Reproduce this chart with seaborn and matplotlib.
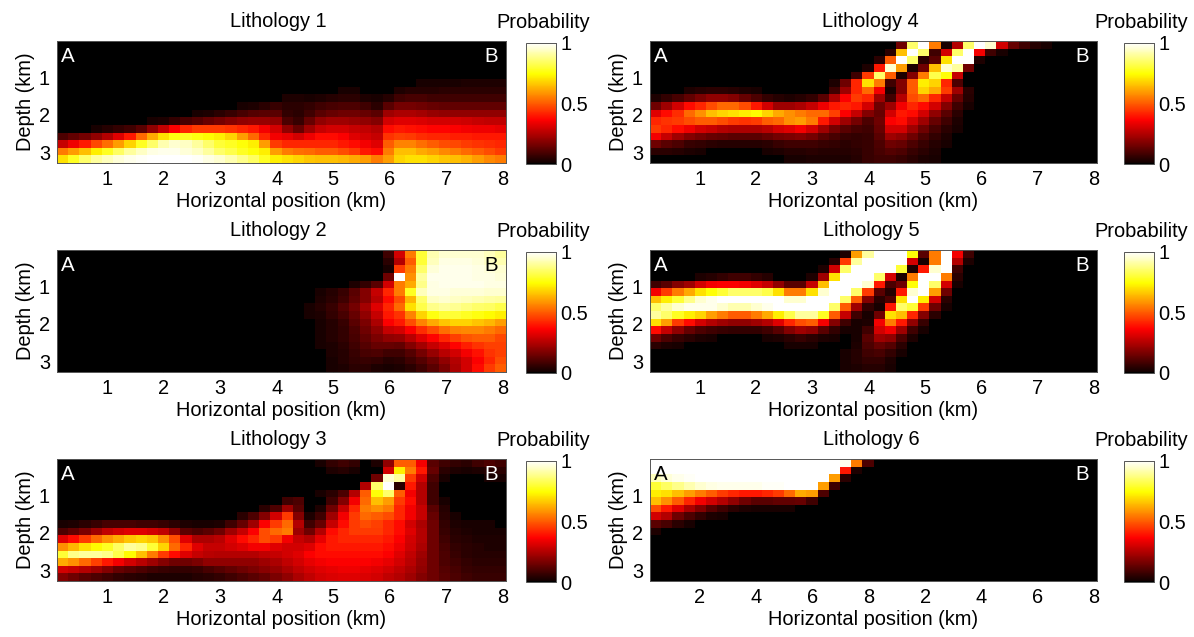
import numpy as np
import matplotlib
matplotlib.use("Agg")
import matplotlib.pyplot as plt
from matplotlib.colors import ListedColormap
import seaborn as sns

W, H = 1194, 637
X_MIN, X_MAX = 0.12, 8.05
D_MIN, D_MAX = 0.04, 3.29
NCOL = 40

lith1 = [
 [0]*40, [0]*40, [0]*40, [0]*40,
 [0]*34+[1,1,1,1,1,1],
 [0]*30+[1,1,2,2,2,2,3,3,3,3],
 [0]*20+[1,1,0,1,1,2,2,1,1,1,3,4,4,4,5,5,5,5,5,5],
 [0]*19+[1,3,3,2,3,4,5,5,3,2,4,8,9,9,8,8,8,8,8,8,8],
 [0]*15+[1,2,3,5,7,5,5,6,8,9,10,10,8,5,12,16,16,15,14,13,13,13,13,13,13],
 [0]*10+[0,1,2,3,5,7,9,11,12,12,6,5,8,12,14,15,15,14,12,22,24,24,23,21,20,20,20,20,20,20],
 [0,0,0,0,0,0,0,1,2,3,6,9,11,14,16,18,20,21,21,20,10,7,14,20,22,22,21,20,18,30,32,32,31,30,30,30,29,28,27,27],
 [0,0,1,2,4,6,8,12,20,28,36,42,45,45,45,44,42,40,35,30,20,14,22,28,30,30,28,27,25,38,40,39,38,37,37,36,35,34,34,33],
 [10,13,16,20,25,32,40,52,62,70,76,78,76,74,72,68,60,52,42,35,33,30,34,38,38,36,32,30,28,44,46,45,43,42,42,41,41,40,40,40],
 [28,34,40,47,53,60,68,78,85,92,95,94,90,85,80,78,75,72,60,45,42,42,42,42,42,40,38,35,32,50,56,56,53,50,48,47,45,44,43,42],
 [55,60,65,72,78,84,90,94,97,98,98,96,94,90,85,82,78,75,72,60,55,53,52,50,50,48,45,40,38,55,65,65,62,60,57,55,52,50,48,45],
 [70,78,85,90,93,96,98,99,100,100,100,100,99,97,95,92,88,84,78,72,70,68,66,65,65,64,62,60,55,60,68,70,70,68,66,65,63,60,57,55],
]

lith2 = [
 [0]*29+[8,30,55,80,92,95,95,95,95,93,90],
 [0]*29+[5,25,50,80,93,97,97,97,96,94,92],
 [0]*29+[2,45,55,85,96,98,98,98,97,96,95],
 [0]*28+[1,15,100,58,90,98,98,98,98,97,97,96],
 [0]*26+[3,6,12,30,55,62,88,97,98,98,98,98,97,97],
 [0]*23+[2,4,7,12,18,28,42,55,78,93,97,97,96,96,96,95,95],
 [0]*22+[1,3,5,8,13,18,26,38,48,64,85,94,95,94,93,92,91,90],
 [0]*21+[1,2,4,7,11,16,23,32,42,52,70,82,88,90,89,87,85,84,82],
 [0]*20+[1,1,2,3,6,9,14,20,28,40,44,56,68,76,80,80,78,76,74,72],
 [0]*20+[1,1,1,2,4,7,12,17,24,36,40,48,56,62,66,68,68,66,64,60],
 [0]*20+[0,0,1,2,4,6,10,15,20,28,30,36,43,48,53,56,57,57,55,52],
 [0]*21+[1,1,2,4,6,9,13,17,20,21,26,32,37,42,46,49,50,50,47],
 [0]*22+[1,2,3,5,8,11,14,14,13,18,23,28,32,37,41,44,46,46],
 [0]*22+[1,1,3,4,7,9,10,8,8,11,16,21,26,30,35,39,44,46],
 [0]*22+[0,1,2,4,6,7,6,4,5,8,11,15,20,25,30,36,42,48],
 [0]*22+[0,1,2,3,5,5,3,2,3,5,8,12,17,24,30,38,45,50],
]

lith3 = [
 [0]*23+[2,6,8,6,1,3,20,50,50,35,12,8,6,5,8,10,8],
 [0]*23+[1,3,4,2,0,1,30,72,55,40,14,5,3,2,3,4,5],
 [0]*28+[15,95,90,45,30,10,2,1,1,1,2,2],
 [0]*27+[25,85,100,5,40,25,8,1,0,0,0,1,1],
 [0]*23+[2,5,10,25,50,75,85,50,35,25,8,1,0,0,0,0,1],
 [0]*20+[8,10,1,1,8,18,35,52,65,60,45,38,25,8,2,0,0,0,0,1],
 [0]*17+[1,5,10,22,12,1,3,15,28,42,55,58,55,42,35,28,12,4,1,1,1,1,1],
 [0]*15+[1,5,10,18,30,45,18,3,8,22,35,45,52,50,48,42,35,28,14,5,2,1,1,1,1],
 [2,3,5,7,9,9,9,8,8,7,5,3,2,2,3,8,14,22,36,45,52,25,8,14,28,38,45,48,46,42,38,30,24,15,6,3,2,2,2,1],
 [10,13,17,22,27,30,32,32,30,27,20,12,10,12,15,22,28,36,48,52,55,22,15,25,38,42,45,45,45,42,38,32,25,15,7,4,3,2,2,2],
 [32,38,45,52,58,62,66,68,66,58,48,32,24,24,26,32,38,42,48,45,35,28,25,33,40,42,42,42,42,40,36,30,25,15,8,5,4,3,3,3],
 [58,64,70,74,78,84,90,88,80,68,52,42,32,28,28,30,32,35,35,32,30,30,32,38,40,40,40,40,40,38,34,29,24,15,9,6,5,4,3,3],
 [80,88,90,90,88,82,74,65,55,45,38,32,28,26,25,25,25,25,27,28,30,32,36,38,38,38,38,38,38,36,32,27,22,15,10,7,5,4,4,4],
 [62,58,52,46,40,35,30,26,22,18,15,15,17,20,20,20,20,20,22,24,27,30,33,35,36,36,36,36,35,33,30,26,21,15,10,8,6,5,5,5],
 [30,28,25,22,18,14,12,10,8,7,6,6,7,9,11,13,15,17,19,21,24,27,30,32,33,34,34,33,32,30,27,24,20,15,11,9,7,6,6,6],
 [18,15,12,10,8,6,5,4,3,3,3,3,4,5,6,8,10,12,14,17,20,24,27,30,31,32,32,31,30,27,25,22,18,15,12,10,8,7,7,7],
]

lith4 = [
 [0]*22+[15,85,100,55,2,25,85,100,95,30,14,8,4,2,1],
 [0]*21+[5,65,100,85,8,30,85,100,35,8,2],
 [0]*20+[5,50,100,85,5,12,70,100,100,3],
 [0]*19+[3,40,95,60,3,15,65,95,90,15],
 [0]*18+[8,45,85,50,3,18,55,82,75,28,1],
 [0]*16+[3,15,42,70,55,8,18,50,72,68,42,10,1],
 [0,1,1,3,4,5,5,4,3,2,1,0,0,0,0,1,8,22,42,52,35,3,18,50,68,62,45,22,5,1],
 [3,6,9,13,17,20,20,18,14,10,6,4,3,4,6,12,24,36,45,42,22,8,25,48,52,42,28,14,4,1],
 [15,22,30,38,42,48,52,52,48,40,30,22,22,24,28,34,40,42,40,30,15,22,35,42,38,30,18,8,2,1],
 [32,38,43,52,58,65,68,70,72,74,68,62,58,55,52,52,46,36,28,18,14,30,40,38,30,20,12,5,1,0],
 [42,44,45,48,50,50,48,45,44,45,50,52,58,60,55,40,30,22,16,10,15,36,38,30,22,14,8,3,1,0],
 [45,42,38,34,30,28,25,24,24,24,26,30,32,35,30,22,16,12,9,8,14,30,30,22,15,9,5,2,0,0],
 [35,28,22,18,16,14,13,12,12,12,14,16,17,18,16,12,9,7,6,7,12,22,20,15,10,6,3,1,0,0],
 [15,12,10,7,6,5,4,4,4,4,5,7,8,8,8,7,6,5,6,7,10,15,14,10,7,4,2,1,0,0],
 [5,5,4,3,2,1,1,1,1,1,2,3,4,4,5,4,4,4,5,7,9,11,10,7,5,3,1,0,0,0],
 [0,0,1,1,0,0,0,0,0,0,1,1,2,2,3,3,3,3,4,7,8,8,7,5,3,2,1,0,0,0],
]

lith5 = [
 [0]*17+[3,60,90,100,100,100,75,12,55,100,35,8,1],
 [0]*16+[5,45,90,100,100,100,100,30,2,55,100,25,3],
 [0]*15+[3,30,85,100,100,100,100,80,3,40,95,100,8],
 [0,0,0,1,3,4,6,8,8,6,4,1,0,0,3,22,70,100,100,100,85,30,3,55,100,100,55,5],
 [8,12,18,22,30,35,36,36,35,32,28,20,12,12,28,65,100,100,100,95,40,10,15,75,100,85,30,2],
 [35,45,55,62,70,75,80,85,85,85,82,70,55,55,70,95,100,100,85,45,12,4,40,95,100,60,15,1],
 [65,72,80,88,95,98,100,100,100,100,100,100,95,95,100,100,100,85,50,18,5,10,70,100,72,30,5],
 [85,90,95,98,98,98,95,92,92,95,98,100,100,100,100,100,85,50,22,6,2,40,85,80,45,15,2],
 [90,85,78,72,68,60,55,50,50,55,62,72,82,90,90,78,50,28,8,2,15,70,65,42,18,5],
 [70,60,45,38,30,25,22,20,20,22,25,32,42,48,50,35,18,8,2,3,35,55,40,20,7,1],
 [38,28,20,14,10,8,7,6,6,6,8,12,18,22,20,12,6,2,2,8,30,35,22,8,2],
 [15,10,7,5,3,2,1,1,1,1,2,3,5,7,5,3,2,1,2,12,22,20,10,3,1],
 [5,3,2,1,0,0,0,0,0,0,0,1,2,2,2,1,1,1,3,10,14,11,5,1],
 [1,1,0,0,0,0,0,0,0,0,0,0,0,0,1,1,1,2,4,8,9,6,2],
 [0]*14+[0,1,1,2,4,6,6,3,1],
 [0]*15+[1,1,2,3,4,4,2,1],
]

lith6 = [
 [100]*17+[98,55,10,1],
 [100]*17+[40,3],
 [93,96,98,99,100,100,100,100,100,100,100,100,100,100,100,100,60,5],
 [80,84,88,92,95,97,98,98,98,98,99,99,100,100,100,60,8],
 [72,70,65,60,55,50,45,42,40,40,42,45,52,62,60,10],
 [65,58,50,42,35,30,25,20,15,12,12,13,13,14,8,1],
 [48,40,32,24,18,12,8,5,3,2,2,2,2,1],
 [30,25,15,10,6,3,2,1],
 [12,9,5,2,1],
 [3,1],
 [0]*40, [0]*40, [0]*40, [0]*40, [0]*40, [0]*40,
]

titles = ["Lithology 1", "Lithology 2", "Lithology 3",
          "Lithology 4", "Lithology 5", "Lithology 6"]
panels = [lith1, lith2, lith3, lith4, lith5, lith6]
x_ticks = [1, 2, 3, 4, 5, 6, 7, 8]
x_labels = ["1", "2", "3", "4", "5", "6", "7", "8"]
x_labels_6 = ["2", "4", "6", "8", "2", "4", "6", "8"]
y_ticks = [1, 2, 3]
cbar_ticks = [0, 0.5, 1]
cbar_labels = ["0", "0.5", "1"]
a_colors = ["white", "white", "white", "white", "white", "black"]
b_colors = ["white", "black", "white", "white", "white", "white"]

col_px = [(57, 506, 526, 556), (650, 1097, 1124, 1154)]
row_px = [(41, 163), (250, 372), (459, 581)]

sns.set_theme(style="white")
plt.rcParams["font.family"] = ["Liberation Sans", "DejaVu Sans"]
FS = 14.4
EDGE = "#555555"

hot_colors = plt.get_cmap("hot")(np.linspace(0, 1, 256))
hot_colors[:3, :3] = 0
heat_cmap = ListedColormap(hot_colors)

fig = plt.figure(figsize=(W / 100, H / 100), dpi=100, facecolor="white")


def box(l, r, t, b):
    return [l / W, 1 - b / H, (r - l) / W, (b - t) / H]


def grid(rows):
    out = []
    for row in rows:
        row = list(row)[:NCOL]
        out.append(row + [0] * (NCOL - len(row)))
    return np.array(out, dtype=float) / 100.0


for k, (rows, title) in enumerate(zip(panels, titles)):
    c = col_px[k // 3]
    r = row_px[k % 3]
    ax = fig.add_axes(box(c[0], c[1], r[0], r[1]))
    cax = fig.add_axes(box(c[2], c[3], r[0] + 2, r[1] + 1))
    z = grid(rows)
    sns.heatmap(z, ax=ax, cmap=heat_cmap, vmin=0, vmax=1, cbar_ax=cax,
                xticklabels=False, yticklabels=False,
                cbar_kws={"ticks": cbar_ticks})
    nr, nc = z.shape
    ax.set_xticks([(v - X_MIN) / (X_MAX - X_MIN) * nc for v in x_ticks])
    ax.set_xticklabels(x_labels_6 if k == 5 else x_labels, fontsize=FS)
    ax.set_yticks([(v - D_MIN) / (D_MAX - D_MIN) * nr for v in y_ticks])
    ax.set_yticklabels([str(v) for v in y_ticks], fontsize=FS, rotation=0)
    ax.tick_params(axis="both", direction="in", length=3, width=0.6,
                   color="black", pad=5, labelcolor="black",
                   bottom=True, left=True)
    ax.set_xlabel("Horizontal position (km)", fontsize=FS, labelpad=2, color="black")
    ax.set_ylabel("Depth (km)", fontsize=FS, labelpad=3, color="black")
    ax.set_title(title, fontsize=FS, pad=10, color="black", x=0.494)
    for s in ax.spines.values():
        s.set_visible(True)
        s.set_color(EDGE)
        s.set_linewidth(0.7)
    ax.text(0.024, 0.87, "A", transform=ax.transAxes, color=a_colors[k],
            fontsize=FS + 0.4, ha="center", va="center")
    ax.text(0.967, 0.87, "B", transform=ax.transAxes, color=b_colors[k],
            fontsize=FS + 0.4, ha="center", va="center")

    cb = ax.collections[0].colorbar
    cb.set_ticks(cbar_ticks)
    cb.set_ticklabels(cbar_labels)
    cb.outline.set_visible(True)
    cb.outline.set_edgecolor(EDGE)
    cb.outline.set_linewidth(0.7)
    cax.tick_params(axis="y", direction="in", length=3, width=0.6, color="black",
                    pad=3, labelsize=FS, labelcolor="black", right=True)
    cax.set_title("Probability", fontsize=FS, pad=11, color="black", x=0.57)

fig.savefig("out.png", dpi=100, facecolor="white")
